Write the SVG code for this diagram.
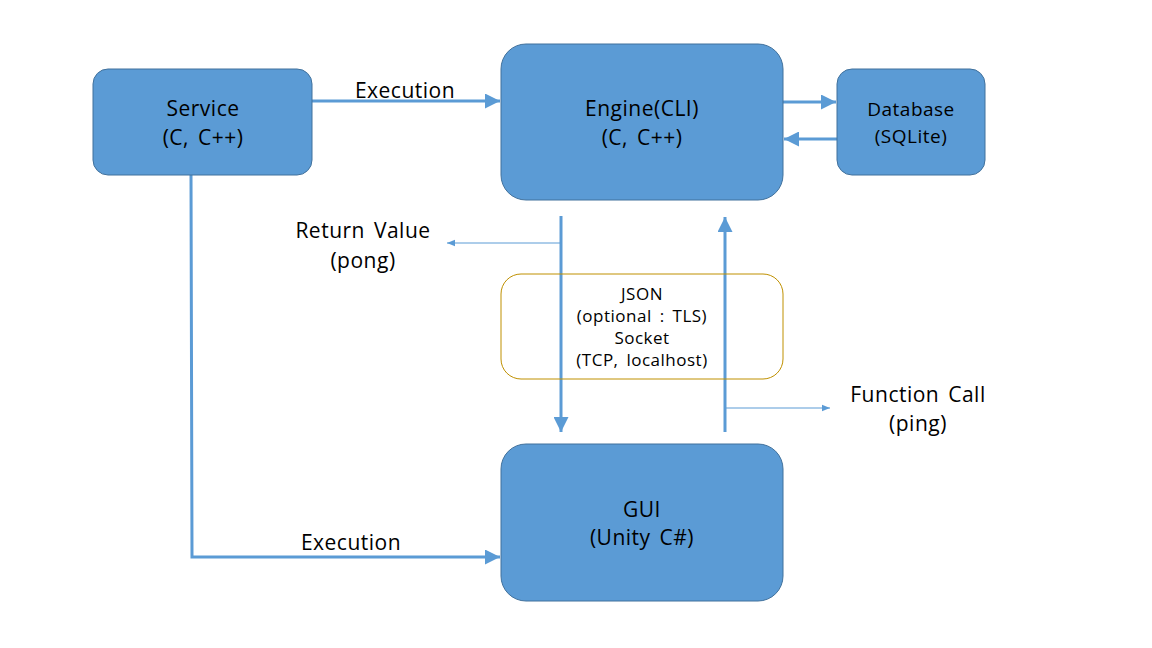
<svg xmlns="http://www.w3.org/2000/svg" width="1152" height="648" viewBox="0 0 1152 648">
<style>
.node{fill:#5B9BD5;stroke:#41719C;stroke-width:1}
.t{font-family:"Open Sans","Noto Sans","Liberation Sans",sans-serif;fill:#000;text-anchor:middle;letter-spacing:0.5px;word-spacing:3px}
.thick{stroke:#5B9BD5;stroke-width:3;fill:none}
.thin{stroke:#5B9BD5;stroke-width:1;fill:none}
</style>
<defs>
<marker id="ah" viewBox="0 0 10 10" refX="10" refY="5" markerWidth="5" markerHeight="5" orient="auto" markerUnits="strokeWidth"><path d="M0,0 L10,5 L0,10 z" fill="#5B9BD5"/></marker>
<marker id="ahs" viewBox="0 0 10 10" refX="10" refY="5" markerWidth="8" markerHeight="8" orient="auto" markerUnits="strokeWidth"><path d="M0,1 L10,5 L0,9 z" fill="#5B9BD5"/></marker>
</defs>
<rect width="1152" height="648" fill="#fff"/>
<g id="connectors">
<line class="thick" x1="312" y1="101" x2="500" y2="101" marker-end="url(#ah)"/>
<line class="thick" x1="783" y1="102" x2="836" y2="102" marker-end="url(#ah)"/>
<line class="thick" x1="837" y1="139" x2="784" y2="139" marker-end="url(#ah)"/>
<line class="thick" x1="561" y1="216" x2="561" y2="432" marker-end="url(#ah)"/>
<line class="thin" x1="561" y1="243" x2="447" y2="243" marker-end="url(#ahs)"/>
<line class="thick" x1="725" y1="432" x2="725" y2="217" marker-end="url(#ah)"/>
<line class="thin" x1="725" y1="408" x2="830" y2="408" marker-end="url(#ahs)"/>
<polyline class="thick" points="191,175 192,557 500,557" marker-end="url(#ah)"/>
<text class="t" x="405" y="98" font-size="21">Execution</text>
<text class="t" x="351" y="550" font-size="21">Execution</text>
<text class="t" x="363" y="238" font-size="21">Return Value</text>
<text class="t" x="363" y="268" font-size="21">(pong)</text>
<text class="t" x="918" y="402" font-size="21">Function Call</text>
<text class="t" x="918" y="431" font-size="21">(ping)</text>
</g>
<g id="service">
<rect class="node" x="93" y="69" width="219" height="106" rx="15"/>
<text class="t" x="203" y="116" font-size="21">Service</text>
<text class="t" x="203" y="145" font-size="21">(C, C++)</text>
</g>
<g id="engine">
<rect class="node" x="501" y="44" width="282" height="156" rx="25"/>
<text class="t" x="642" y="116" font-size="21">Engine(CLI)</text>
<text class="t" x="642" y="145" font-size="21">(C, C++)</text>
</g>
<g id="database">
<rect class="node" x="837" y="69" width="148" height="106" rx="15"/>
<text class="t" x="911" y="116" font-size="19">Database</text>
<text class="t" x="911" y="143" font-size="19">(SQLite)</text>
</g>
<g id="protocol">
<rect x="501" y="274" width="282" height="105" rx="20" fill="none" stroke="#BF9000" stroke-width="1"/>
<text class="t" x="642" y="300" font-size="17">JSON</text>
<text class="t" x="642" y="322" font-size="17">(optional : TLS)</text>
<text class="t" x="642" y="344" font-size="17">Socket</text>
<text class="t" x="642" y="366" font-size="17">(TCP, localhost)</text>
</g>
<g id="gui">
<rect class="node" x="501" y="444" width="282" height="157" rx="25"/>
<text class="t" x="642" y="517" font-size="21">GUI</text>
<text class="t" x="642" y="545" font-size="21">(Unity C#)</text>
</g>
</svg>
